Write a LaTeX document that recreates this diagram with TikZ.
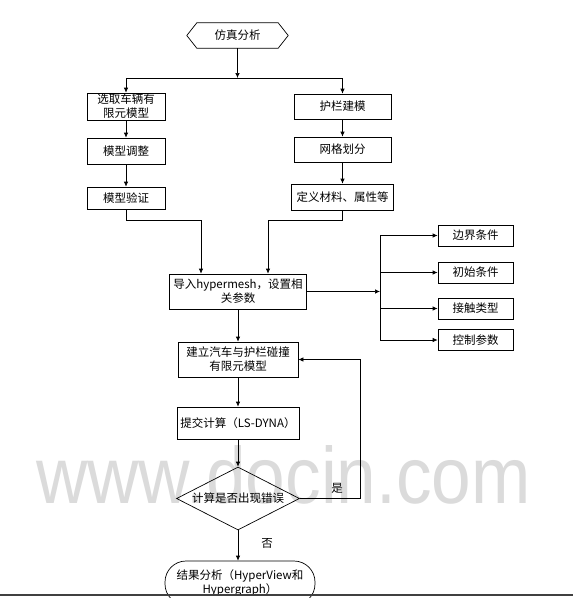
\documentclass[tikz,border=0pt]{standalone}
\usepackage{fontspec}
\setmainfont{Noto Sans CJK SC}
\newfontfamily\wmfont{Liberation Sans}
\usetikzlibrary{arrows.meta,shapes.geometric,calc}
\begin{document}
\begin{tikzpicture}[x=1pt,y=-1pt,
  every node/.style={font=\fontsize{11.5}{14}\selectfont},
  boxnode/.style={draw, line width=0.7pt, align=center, inner sep=1pt},
  arr/.style={-{Latex[length=5pt,width=4.5pt]}, line width=0.7pt},
  ln/.style={line width=0.7pt}]
\useasboundingbox (0,0) rectangle (573,598);
\clip (0,0) rectangle (573,598);
\fill[white] (0,0) rectangle (573,598);
% watermark
\node[anchor=base west, text=black!14, font=\wmfont\fontsize{80}{80}\selectfont, xscale=0.89, inner sep=0] (wm) at (36,503) {www.docin.com};

% start hexagon
\node[minimum height=25, minimum width=101, inner sep=0] (start) at (237.5,35.5) {仿真分析};
\draw[ln] (start.west) -- ($(start.north west)+(10,0)$) -- ($(start.north east)+(-10,0)$) -- (start.east) -- ($(start.south east)+(-10,0)$) -- ($(start.south west)+(10,0)$) -- cycle;

% left column
\node[boxnode, minimum width=78, minimum height=27] (a1) at (126,106.5) {选取车辆有\\限元模型};
\node[boxnode, minimum width=78, minimum height=26] (a2) at (126,151) {模型调整};
\node[boxnode, minimum width=78, minimum height=22] (a3) at (126,198) {模型验证};
% right column
\node[boxnode, minimum width=97, minimum height=25] (b1) at (342.5,106.5) {护栏建模};
\node[boxnode, minimum width=97, minimum height=25] (b2) at (342.5,149.5) {网格划分};
\node[boxnode, minimum width=102, minimum height=26] (b3) at (342.5,197) {定义材料、属性等};

% hypermesh
\node[boxnode, minimum width=137, minimum height=35] (hm) at (238,291.5) {导入hypermesh，设置相\\关参数};

% right boxes
\node[boxnode, minimum width=75, minimum height=21] (r1) at (475.5,235.5) {边界条件};
\node[boxnode, minimum width=75, minimum height=21] (r2) at (475.5,272.5) {初始条件};
\node[boxnode, minimum width=75, minimum height=21] (r3) at (475.5,308.5) {接触类型};
\node[boxnode, minimum width=75, minimum height=21] (r4) at (475.5,340) {控制参数};

% main lower column
\node[boxnode, minimum width=120, minimum height=35] (c1) at (238,359.5) {建立汽车与护栏碰撞\\有限元模型};
\node[boxnode, minimum width=122, minimum height=32] (c2) at (238,423) {提交计算（LS-DYNA）};
\node[draw, line width=0.7pt, shape=diamond, aspect=2, inner sep=0, minimum width=123, minimum height=63] (dia) at (238,498.5) {计算是否出现错误};
\node[boxnode, minimum width=150, minimum height=44, rounded corners=21] (end) at (240,583) {结果分析（HyperView和\\Hypergraph）};

% connectors
\coordinate (j1) at (237.5,78);
\draw[arr] (start) -- (j1);
\draw[arr] (j1) -| (a1.north);
\draw[arr] (j1) -| (b1.north);
\draw[arr] (a1) -- (a2);
\draw[arr] (a2) -- (a3);
\draw[arr] (b1) -- (b2);
\draw[arr] (b2) -- (b3);
\coordinate (ja) at (201,220);
\coordinate (jb) at (268,220);
\draw[arr] (a3.south) |- (ja) -- (ja |- hm.north);
\draw[arr] (b3.south) |- (jb) -- (jb |- hm.north);
\coordinate (bus) at (380,291.5);
\draw[arr] (hm.east) -- (bus);
\draw[ln] (bus |- r1.west) -- (bus |- r4.west);
\foreach \r in {r1,r2,r3,r4} \draw[arr] (bus |- \r.west) -- (\r.west);
\draw[arr] (hm) -- (c1);
\draw[arr] (c1) -- (c2);
\draw[arr] (c2) -- (dia);
\coordinate (loop) at (360,0);
\draw[arr] (dia.east) -| (loop |- c1.east) -- (c1.east);
\node (yes) at (337,488) {是};
\draw[arr] (dia.south) -- (dia.south |- end.north);
\node (no) at (267,543) {否};

% scan edge
\draw[line width=2pt, black!75] (0,595) -- (573,595);
\end{tikzpicture}
\end{document}
